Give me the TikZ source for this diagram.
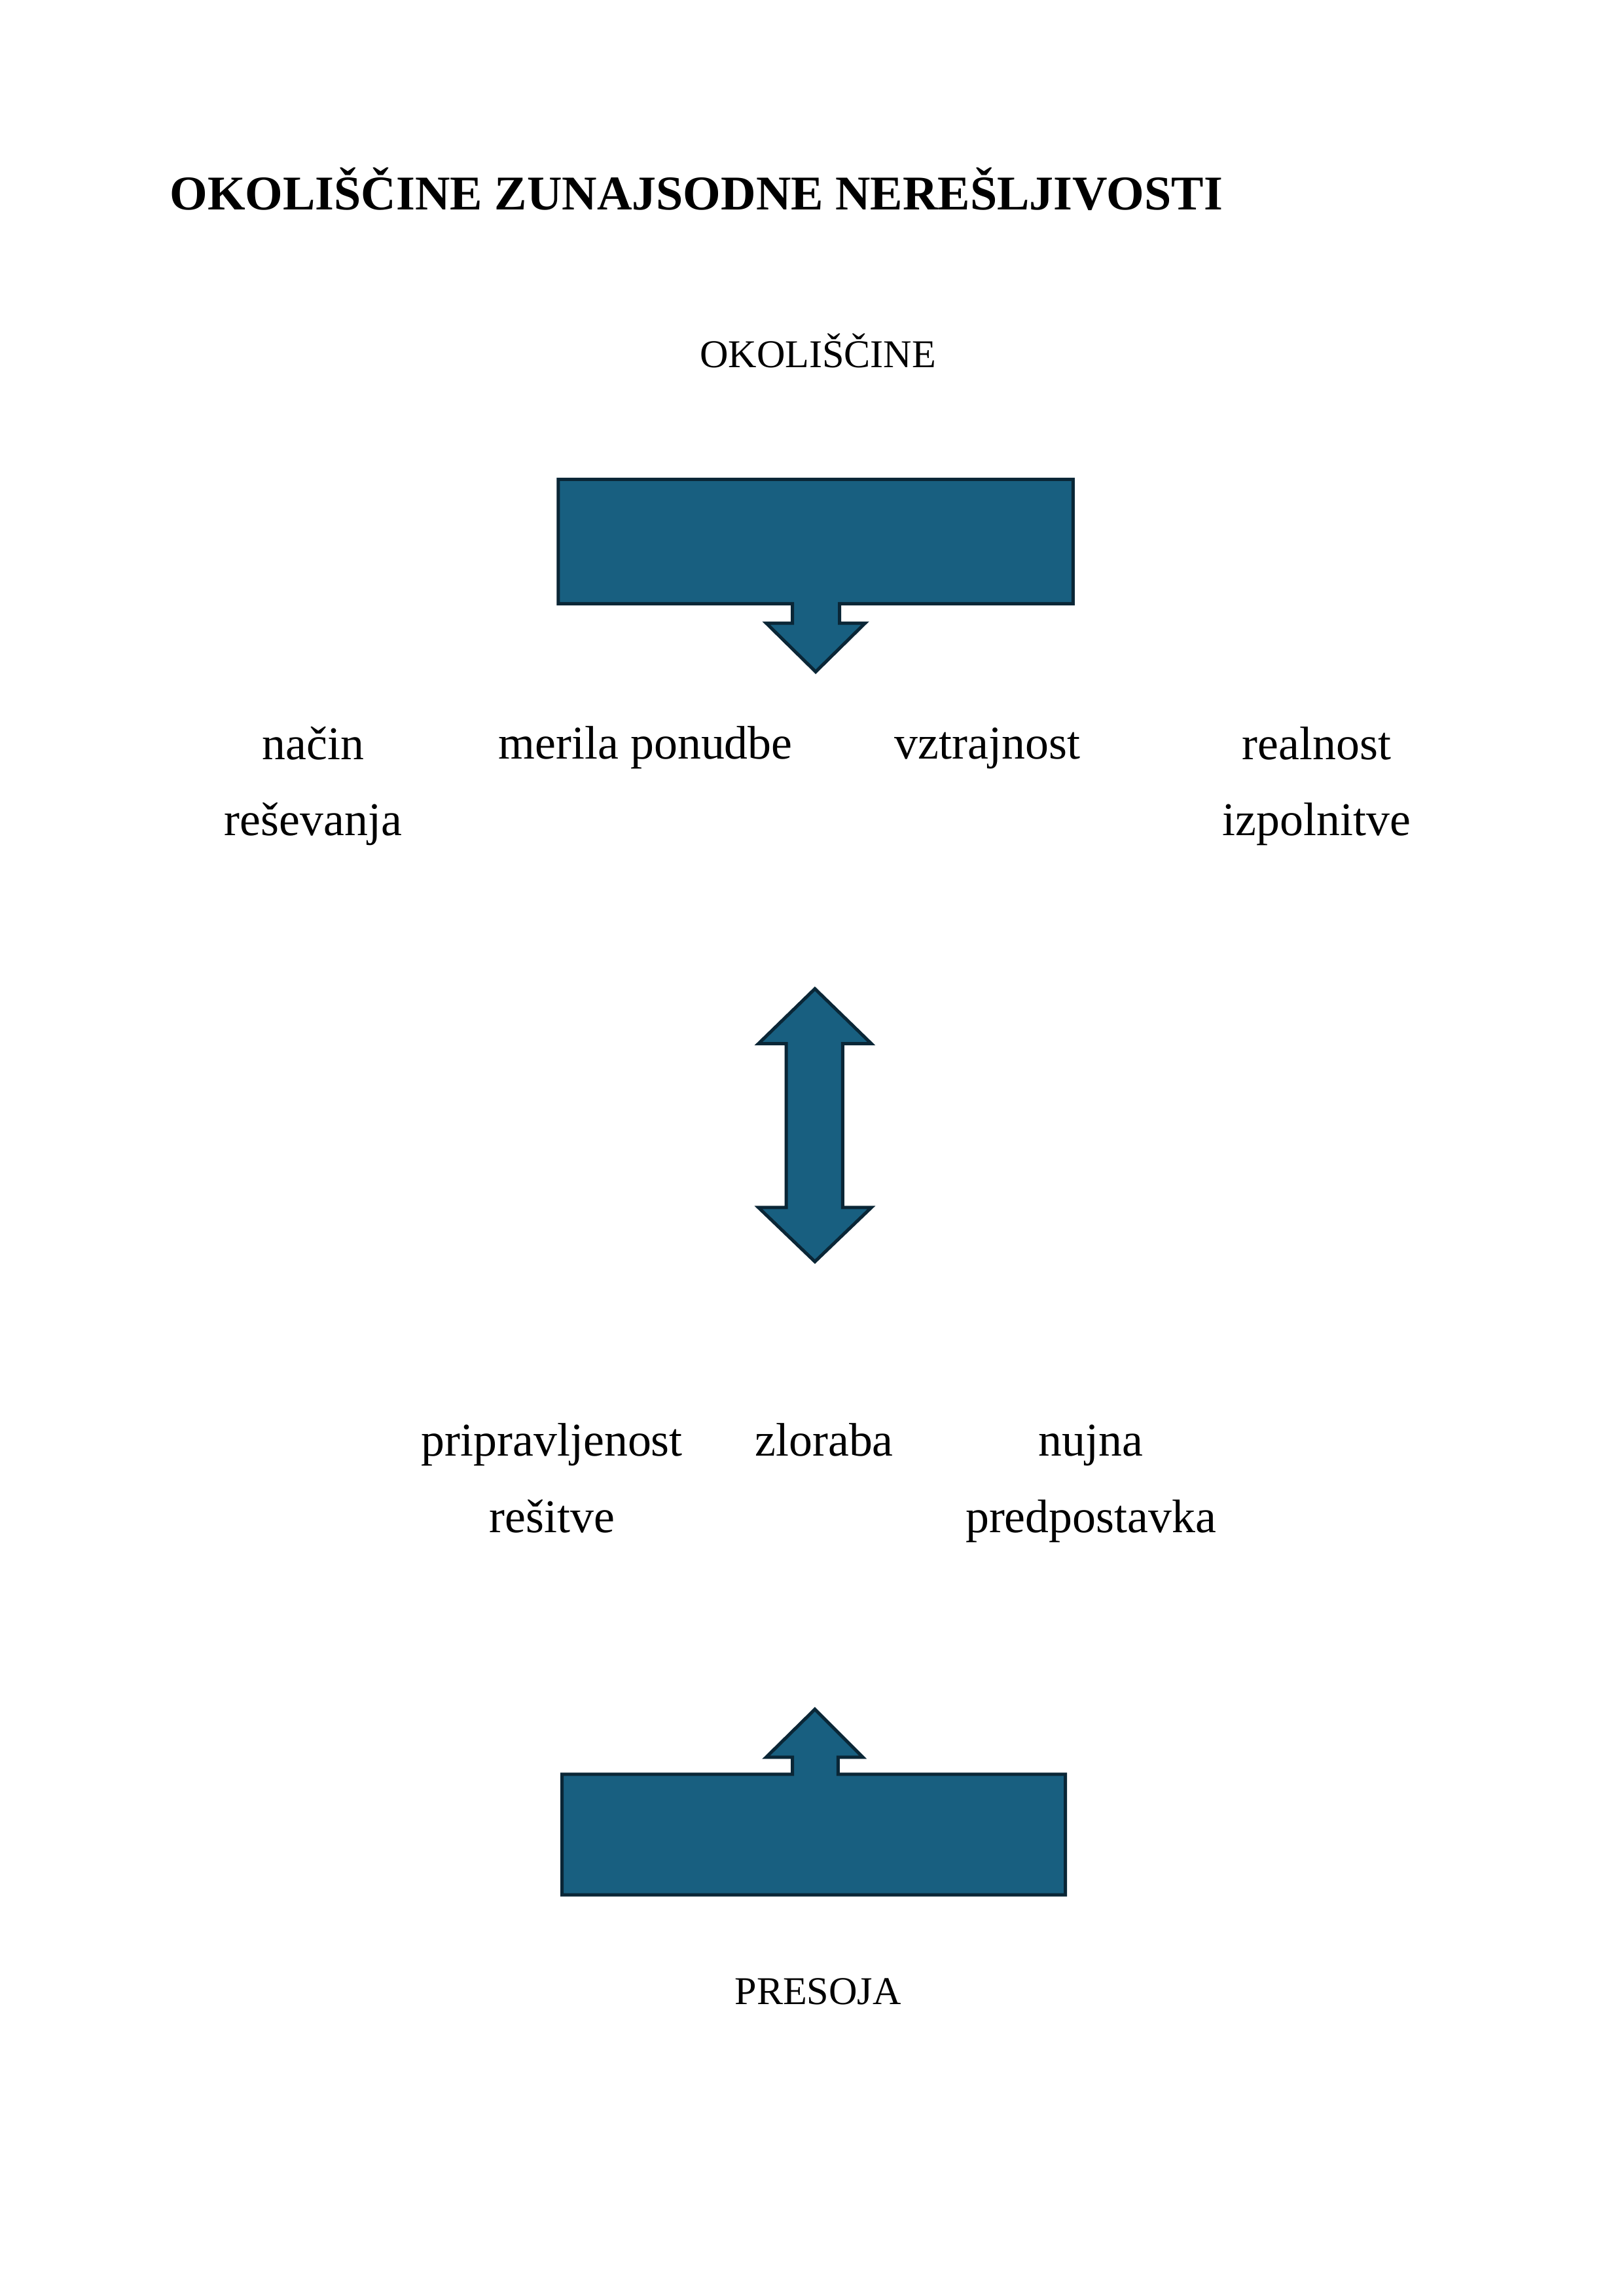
\documentclass[tikz,border=0pt]{standalone}
\usepackage{fontspec}
\setmainfont{Liberation Serif}
\usepackage{tikz}
\usetikzlibrary{calc}
\definecolor{calloutblue}{RGB}{24,95,128}
\definecolor{calloutedge}{RGB}{10,38,54}
\tikzstyle{callout}=[fill=calloutblue, draw=calloutedge, line width=1.2pt, line join=miter]
\tikzstyle{label}=[inner sep=0pt, anchor=base, align=center, font=\fontsize{17.3}{28}\selectfont]
\tikzstyle{caps}=[inner sep=0pt, anchor=base, font=\fontsize{14.5}{28}\selectfont]

\begin{document}
\begin{tikzpicture}
\useasboundingbox (0,0) rectangle (21,-29.7);
\node[inner sep=0pt, anchor=base west, font=\fontsize{17.85}{22}\selectfont\bfseries] (title) at (2.19,-2.71) {OKOLIŠČINE ZUNAJSODNE NEREŠLJIVOSTI};
\node[caps] (okol) at (10.58,-4.75) {OKOLIŠČINE};
% top box pointing down
\draw[callout] (7.22,-6.20) -- (13.88,-6.20) -- (13.88,-7.81) -- (10.86,-7.81) -- (10.86,-8.06)
	-- (11.19,-8.06) -- (10.55,-8.69) -- (9.91,-8.06) -- (10.25,-8.06) -- (10.25,-7.81)
	-- (7.22,-7.81) -- cycle;
% two-line labels sit on the baseline of their last line
\node[label] (nacin) at (4.05,-10.81) {način\\reševanja};
\node[label] (merila) at (8.35,-9.82) {merila ponudbe};
\node[label] (vztraj) at (12.77,-9.82) {vztrajnost};
\node[label] (real) at (17.03,-10.81) {realnost\\izpolnitve};
% double arrow
\draw[callout] (10.54,-12.79) -- (11.27,-13.50) -- (10.90,-13.50) -- (10.90,-15.62) -- (11.27,-15.62)
	-- (10.54,-16.32) -- (9.81,-15.62) -- (10.17,-15.62) -- (10.17,-13.50) -- (9.81,-13.50) -- cycle;
\node[label] (priprav) at (7.14,-19.82) {pripravljenost\\rešitve};
\node[label] (zlor) at (10.66,-18.83) {zloraba};
\node[label] (nujna) at (14.11,-19.82) {nujna\\predpostavka};
% bottom box pointing up
\draw[callout] (7.27,-24.51) -- (7.27,-22.95) -- (10.25,-22.95) -- (10.25,-22.73) -- (9.91,-22.73)
	-- (10.54,-22.11) -- (11.16,-22.73) -- (10.84,-22.73) -- (10.84,-22.95) -- (13.78,-22.95)
	-- (13.78,-24.51) -- cycle;
\node[caps] (presoja) at (10.58,-25.93) {PRESOJA};
\end{tikzpicture}
\end{document}
